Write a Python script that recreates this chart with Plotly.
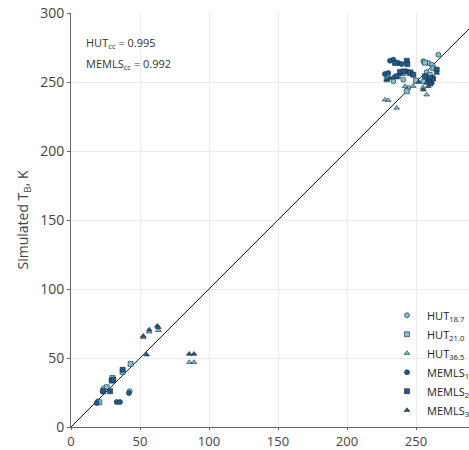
import plotly.graph_objects as go

# ---- data (observed TB, simulated TB) ----
hut187_x = [19.5, 23.5, 29.5, 42.5, 266.2, 255.3, 258.9, 255.3, 261.4, 237.2, 240.8, 233.6, 244.4, 257.7]
hut187_y = [18.6, 27.8, 34.3, 25.9, 269.8, 265.0, 263.8, 250.5, 262.5, 254.1, 251.7, 250.5, 245.7, 257.2]

hut210_x = [20.5, 25.9, 30.0, 37.4, 43.2, 256.5, 262.5, 246.0, 240.8, 228.8, 243.3, 260.0, 250.0]
hut210_y = [17.9, 28.8, 35.5, 39.9, 45.7, 264.0, 260.0, 257.0, 256.5, 252.0, 243.3, 255.0, 251.0]

hut365_x = [52.4, 56.7, 63.3, 85.7, 89.1, 227.5, 229.9, 236.0, 257.7, 255.0, 242.0, 248.0, 260.1]
hut365_y = [65.0, 69.0, 70.1, 46.9, 46.9, 237.2, 236.7, 231.2, 240.8, 246.0, 246.9, 247.0, 248.0]

memls187_x = [18.6, 23.0, 33.1, 35.5, 42.0, 231.2, 233.6, 237.2, 239.6, 227.5, 229.9, 243.3, 258.9, 261.4, 262.5]
memls187_y = [17.4, 25.9, 18.1, 18.1, 24.6, 265.4, 266.2, 263.8, 263.0, 255.8, 256.5, 257.7, 251.7, 249.3, 253.0]

memls210_x = [23.4, 28.3, 29.5, 30.7, 37.4, 243.3, 243.7, 234.8, 238.4, 240.8, 245.7, 248.0, 265.0, 256.5, 260.1, 236.0]
memls210_y = [25.9, 25.9, 33.6, 34.3, 41.5, 265.4, 263.0, 263.8, 257.2, 257.7, 256.5, 255.3, 258.9, 254.1, 252.9, 254.1]

memls365_x = [52.4, 54.8, 56.7, 62.5, 63.3, 85.7, 89.1, 231.2, 228.8, 233.6, 255.3, 258.9, 260.1, 262.5, 252.0, 257.7, 265.0]
memls365_y = [66.0, 52.4, 70.5, 73.2, 72.2, 52.9, 52.9, 252.9, 251.7, 253.5, 244.4, 246.9, 250.5, 251.7, 250.0, 249.3, 256.5]

line_x = [0, 300]
line_y = [0, 300]

hut_cc = 0.995
memls_cc = 0.992

LIGHT = "#7cc2cf"
DARK = "#1f5a8c"
EDGE = "#15283a"

fig = go.Figure()
fig.add_trace(go.Scatter(x=line_x, y=line_y, mode="lines",
                         line=dict(color="#222222", width=1), showlegend=False,
                         hoverinfo="skip"))

series = [
    ("HUT<sub>18.7</sub>", hut187_x, hut187_y, "circle", LIGHT),
    ("HUT<sub>21.0</sub>", hut210_x, hut210_y, "square", LIGHT),
    ("HUT<sub>36.5</sub>", hut365_x, hut365_y, "triangle-up", LIGHT),
    ("MEMLS<sub>18.7</sub>", memls187_x, memls187_y, "circle", DARK),
    ("MEMLS<sub>21.0</sub>", memls210_x, memls210_y, "square", DARK),
    ("MEMLS<sub>36.5</sub>", memls365_x, memls365_y, "triangle-up", DARK),
]
for name, xs, ys, sym, col in series:
    fig.add_trace(go.Scatter(x=xs, y=ys, mode="markers", name=name,
                             marker=dict(symbol=sym, size=5, color=col,
                                         line=dict(color=EDGE, width=0.6))))

fig.add_annotation(x=9.4, y=278.0, xref="x", yref="y", xanchor="left",
                   text=f"HUT<sub>cc</sub> = {hut_cc}", showarrow=False,
                   font=dict(size=11, color="#333333"))
fig.add_annotation(x=9.4, y=262.8, xref="x", yref="y", xanchor="left",
                   text=f"MEMLS<sub>cc</sub> = {memls_cc}", showarrow=False,
                   font=dict(size=11, color="#333333"))

fig.update_layout(
    width=469, height=450,
    margin=dict(l=71, r=0, t=13, b=23, autoexpand=False),
    plot_bgcolor="white", paper_bgcolor="white",
    font=dict(family="Open Sans, DejaVu Sans, sans-serif", color="#444444"),
    showlegend=True,
    legend=dict(x=0.794, y=0.305, xanchor="left", yanchor="top",
                bgcolor="rgba(0,0,0,0)", font=dict(size=11, color="#222222"),
                itemwidth=30, tracegroupgap=0),
    xaxis=dict(range=[0, 288.4], tickvals=[0, 50, 100, 150, 200, 250],
               showgrid=True, gridcolor="#ececec", gridwidth=1,
               showline=True, linecolor="#666666", linewidth=1,
               ticks="outside", ticklen=2, tickcolor="#666666",
               tickfont=dict(size=13), zeroline=False),
    yaxis=dict(range=[0, 300], tickvals=[0, 50, 100, 150, 200, 250, 300],
               showgrid=True, gridcolor="#ececec", gridwidth=1,
               showline=True, linecolor="#666666", linewidth=1,
               ticks="outside", ticklen=3, tickcolor="#666666",
               tickfont=dict(size=14), zeroline=False,
               title=dict(text="Simulated T<sub>B</sub>, K", font=dict(size=14), standoff=8)),
)

fig.write_html("out.html")
